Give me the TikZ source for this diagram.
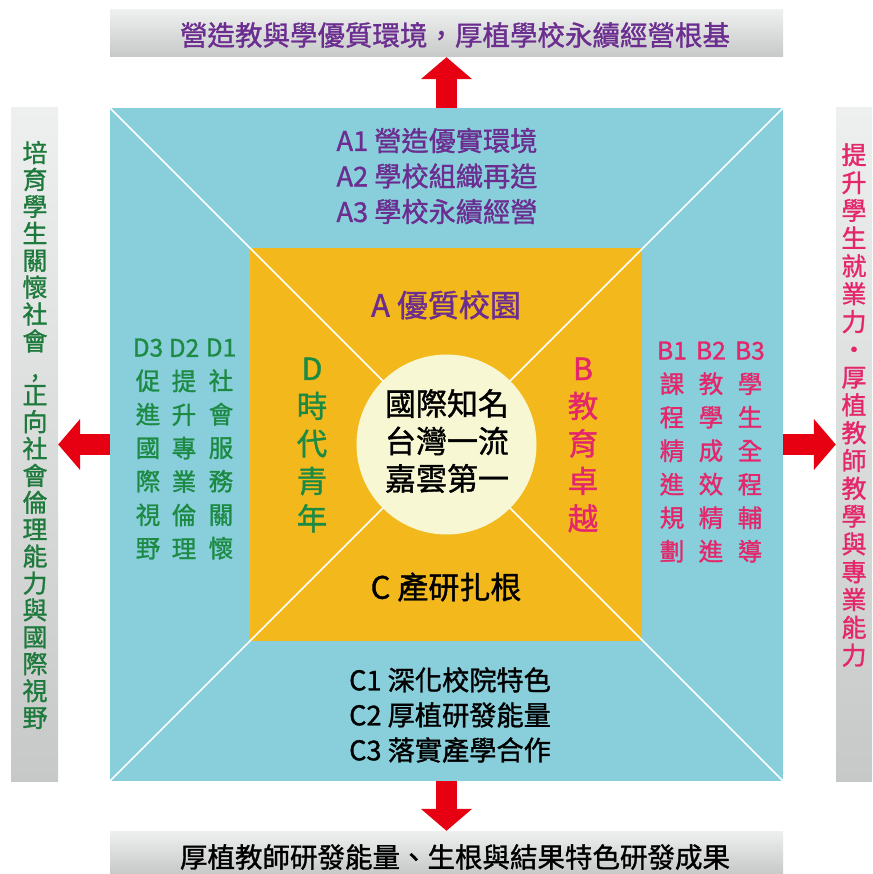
\documentclass[tikz,border=0pt]{standalone}
\usepackage{fontspec}
\setmainfont{Noto Sans CJK TC}[FakeBold=1.2]
\usetikzlibrary{arrows.meta}
\definecolor{tealbg}{HTML}{88CFDB}
\definecolor{orangebg}{HTML}{F3B81C}
\definecolor{circbg}{HTML}{F8F7D3}
\definecolor{purp}{HTML}{6B2D8F}
\definecolor{pinkc}{HTML}{E4266B}
\definecolor{greenc}{HTML}{1D8A44}
\definecolor{greend}{HTML}{1E7A3C}
\definecolor{arrred}{HTML}{E60012}
\definecolor{gtop}{HTML}{EEEFEF}
\definecolor{gbot}{HTML}{C7C8C8}
\tikzset{
  banner/.style={top color=gtop, bottom color=gbot, inner sep=0pt, draw=none},
  bigarrow/.style={draw=arrred, line width=21pt, -{Triangle[width=50pt,length=22pt]}, arrred},
  diag/.style={draw=white, line width=1.6pt},
  txt/.style={inner sep=0pt, align=center},
}
\begin{document}
\begin{tikzpicture}[x=1pt,y=-1pt]
\useasboundingbox (0,0) rectangle (872,874);
\fill[white] (0,0) rectangle (872,874);
% banners
\node[banner, minimum width=673pt, minimum height=47pt] (topb) at (446.5,33.5) {};
\node[banner, minimum width=673pt, minimum height=43pt] (botb) at (446.5,852.5) {};
\node[banner, minimum width=47pt, minimum height=673pt] (leftb) at (34.5,444.5) {};
\node[banner, minimum width=36pt, minimum height=673pt] (rightb) at (854,444.5) {};
% squares
\node[fill=tealbg, minimum size=673pt, inner sep=0pt] (outer) at (446.5,444.5) {};
\node[fill=orangebg, minimum size=392pt, inner sep=0pt] (inner) at (446,444.5) {};
\draw[diag] (outer.north west) -- (outer.south east);
\draw[diag] (outer.north east) -- (outer.south west);
\node[circle, fill=circbg, minimum size=180pt, inner sep=0pt] (core) at (446.5,444.5) {};
% arrows
\draw[bigarrow] (outer.north) -- (topb.south);
\draw[bigarrow] (outer.south) -- (botb.north);
\draw[bigarrow] (outer.west) -- (leftb.east);
\draw[bigarrow] (outer.east) -- (rightb.west);
% banner texts
\node[txt, purp, font=\fontsize{27.5}{30}\selectfont] (toptxt) at (455,35) {營造教與學優質環境，厚植學校永續經營根基};
\node[txt, black, font=\fontsize{27.5}{30}\selectfont] (bottxt) at (455,857) {厚植教師研發能量、生根與結果特色研發成果};
\node[txt, greend, font=\fontsize{25}{26.9}\selectfont] (lefttxt) at (35,435) {培\\育\\學\\生\\關\\懷\\社\\會\\,\\正\\向\\社\\會\\倫\\理\\能\\力\\與\\國\\際\\視\\野};
\node[txt, pinkc, font=\fontsize{25}{27.8}\selectfont] (righttxt) at (854,405) {提\\升\\學\\生\\就\\業\\力\\·\\厚\\植\\教\\師\\教\\學\\與\\專\\業\\能\\力};
% outer texts
\node[txt, purp, font=\fontsize{27.2}{35.5}\selectfont] (atxt) at (437,176) {A1 營造優實環境\\A2 學校組織再造\\A3 學校永續經營};
\node[txt, black, font=\fontsize{27.2}{35}\selectfont] (ctxt) at (450,715) {C1 深化校院特色\\C2 厚植研發能量\\C3 落實產學合作};
% D columns
\node[txt, greenc, font=\fontsize{24.5}{33.5}\selectfont] (d3) at (148,449) {D3\\促\\進\\國\\際\\視\\野};
\node[txt, greenc, font=\fontsize{24.5}{33.5}\selectfont] (d2) at (184,449) {D2\\提\\升\\專\\業\\倫\\理};
\node[txt, greenc, font=\fontsize{24.5}{33.5}\selectfont] (d1) at (221,449) {D1\\社\\會\\服\\務\\關\\懷};
% B columns
\node[txt, pinkc, font=\fontsize{24.5}{33.5}\selectfont] (b1) at (672,452) {B1\\課\\程\\精\\進\\規\\劃};
\node[txt, pinkc, font=\fontsize{24.5}{33.5}\selectfont] (b2) at (711,452) {B2\\教\\學\\成\\效\\精\\進};
\node[txt, pinkc, font=\fontsize{24.5}{33.5}\selectfont] (b3) at (750,452) {B3\\學\\生\\全\\程\\輔\\導};
% inner texts
\node[txt, purp, font=\fontsize{31}{36}\selectfont] (aname) at (446,305) {A 優質校園};
\node[txt, black, font=\fontsize{31}{36}\selectfont] (cname) at (446,587) {C 產研扎根};
\node[txt, greenc, font=\fontsize{30.5}{37.5}\selectfont] (dname) at (312,445) {D\\時\\代\\青\\年};
\node[txt, pinkc, font=\fontsize{30.5}{37.5}\selectfont] (bname) at (583,445) {B\\教\\育\\卓\\越};
% core text
\node[txt, black, font=\fontsize{31}{37.5}\selectfont] (coretxt) at (447,441) {國際知名\\台灣一流\\嘉雲第一};
\end{tikzpicture}
\end{document}
